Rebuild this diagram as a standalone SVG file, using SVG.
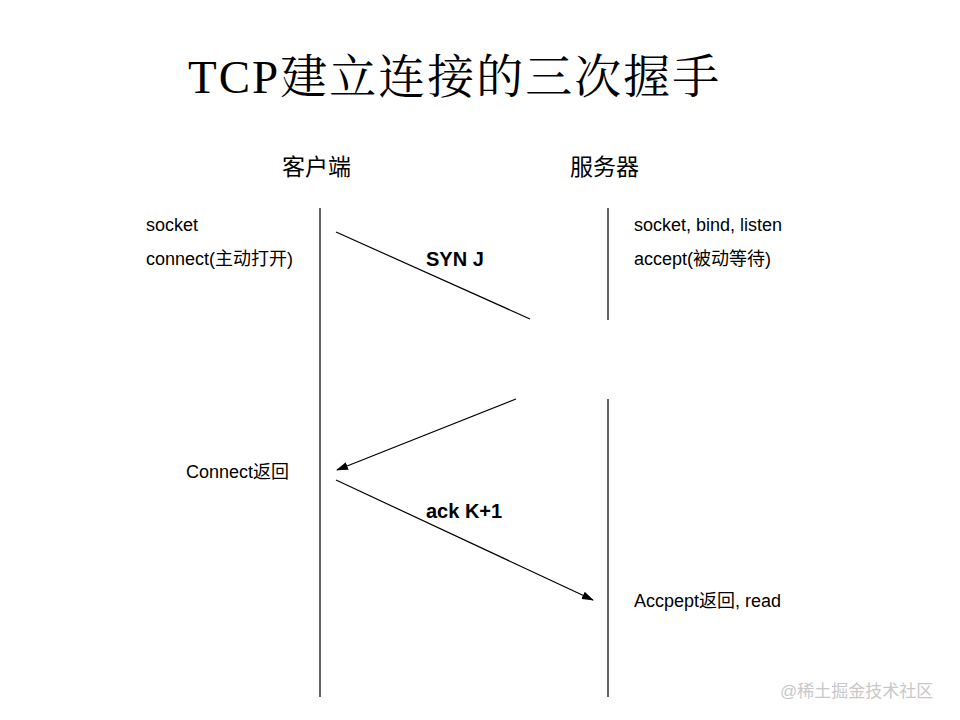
<svg xmlns="http://www.w3.org/2000/svg" width="960" height="720" viewBox="0 0 960 720">
<defs>
<style>
.t{font-family:"Liberation Sans",Arial,"Noto Sans CJK SC",sans-serif;font-size:18px;fill:#000}
.b{font-weight:bold;font-size:20px}
.h{font-size:23px}
.l{stroke:#000;stroke-width:1.2;fill:none}
</style>
<marker id="a" markerWidth="12" markerHeight="8" refX="11" refY="4" orient="auto" markerUnits="userSpaceOnUse"><path d="M0,0 L12,4 L0,8 Z" fill="#000"/></marker>
</defs>
<rect width="960" height="720" fill="#fff"/>
<text x="188" y="93" font-family="'Liberation Serif','Noto Serif CJK SC','Noto Sans CJK SC',serif" font-size="47" letter-spacing="2" fill="#000">TCP建立连接的三次握手</text>
<g id="client"><text class="t h" x="282" y="175">客户端</text>
<line class="l" x1="320" y1="208" x2="320" y2="697"/></g>
<g id="server"><text class="t h" x="570" y="175">服务器</text>
<line class="l" x1="608" y1="208" x2="608" y2="320"/><line class="l" x1="608" y1="399" x2="608" y2="697"/></g>
<g id="labels">
<text class="t" x="146" y="231">socket</text>
<text class="t" x="146" y="265">connect(主动打开)</text>
<text class="t" x="634" y="231">socket, bind, listen</text>
<text class="t" x="634" y="265">accept(被动等待)</text>
<text class="t" x="186" y="478">Connect返回</text>
<text class="t" x="634" y="607">Accpept返回, read</text>
</g>
<g id="connectors">
<line class="l" x1="336" y1="232" x2="530" y2="319"/>
<line class="l" x1="516" y1="399" x2="337" y2="470" marker-end="url(#a)"/>
<line class="l" x1="336" y1="480" x2="593" y2="600" marker-end="url(#a)"/>
<text class="t b" x="426" y="266">SYN J</text>
<text class="t b" x="426" y="518">ack K+1</text>
</g>
<text class="t" x="780" y="697" style="font-size:17px;fill:#c8c8c8">@稀土掘金技术社区</text>
</svg>
